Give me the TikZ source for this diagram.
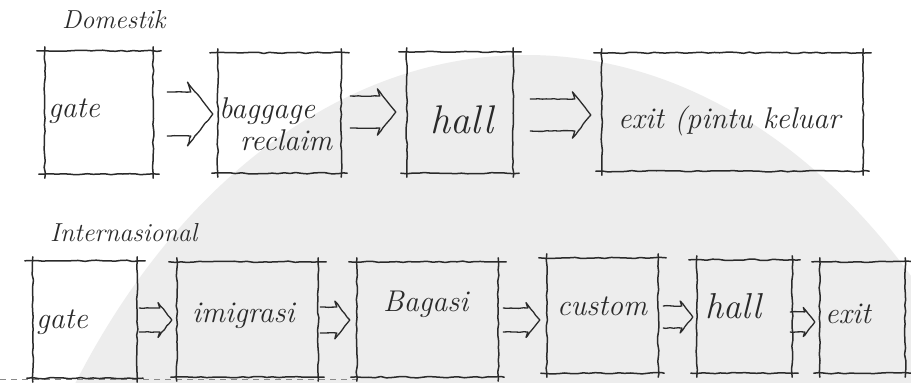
\documentclass[tikz,border=0pt]{standalone}
\usetikzlibrary{calc,decorations.pathmorphing}

\definecolor{ink}{HTML}{2A2A2A}
\definecolor{wash}{HTML}{EDEDED}

\tikzset{
  x=1pt, y=-1pt,
  pen/.style={draw=ink, line width=1.5pt, line cap=round, line join=round,
    decorate, decoration={random steps, segment length=6pt, amplitude=0.7pt}},
  penarrow/.style={draw=ink, line width=1.3pt, line cap=round, line join=round,
    decorate, decoration={random steps, segment length=4pt, amplitude=0.4pt}},
  box/.style={draw=none, inner sep=0pt},
  hand/.style={text=ink, inner sep=0pt, font=\itshape\fontsize{30}{34}\selectfont},
  title/.style={hand, font=\itshape\fontsize{26}{30}\selectfont},
}

% a sketched frame round a box node, with overshooting edges
\newcommand\penbox[1]{%
  \draw[pen] ([xshift=-8pt]#1.north west) -- ([xshift=8pt]#1.north east);
  \draw[pen] ([xshift=-6pt]#1.south west) -- ([xshift=6pt]#1.south east);
  \draw[pen] ([yshift=4pt]#1.north west) -- ([yshift=-4pt]#1.south west);
  \draw[pen] ([yshift=4pt]#1.north east) -- ([yshift=-4pt]#1.south east);
}

% hollow double-line arrow: from, to, gap after from, gap before to, half width, centre y
\newcommand\penarrow[6]{%
  \draw[penarrow] let \p1=(#1.east), \p2=(#2.west) in
    (\x1+#3pt, -#6pt+#5pt) -- (\x2-#4pt-#5pt, -#6pt+#5pt)
    -- (\x2-#4pt-1.15*#5pt, -#6pt+1.45*#5pt) -- (\x2-#4pt, -#6pt)
    -- (\x2-#4pt-1.15*#5pt, -#6pt-1.45*#5pt) -- (\x2-#4pt-#5pt, -#6pt-#5pt)
    -- (\x1+#3pt, -#6pt-#5pt);
}

\begin{document}
\begin{tikzpicture}
\pgfmathsetseed{11}
\fill[white] (0,0) rectangle (911,383);
\useasboundingbox (0,0) rectangle (911,383);

% pale background wash
\begin{scope}
  \clip (0,0) rectangle (911,383);
  \fill[wash] (526,855) ellipse [x radius=558pt, y radius=800pt];
\end{scope}

% faint dashed base line
\draw[ink!55, line width=0.7pt, dash pattern=on 6pt off 5pt] (0,379) -- (360,379);

% ---------- Domestik ----------
\node[title, anchor=base west] (tdom) at (62,28) {Domestik};

\node[box, minimum width=108pt, minimum height=123pt] (dgate) at (99,112.5) {};
\node[box, minimum width=123pt, minimum height=120pt] (dbag)  at (279.5,113) {};
\node[box, minimum width=106pt, minimum height=121pt] (dhall) at (460,112.5) {};
\node[box, minimum width=261pt, minimum height=118pt] (dexit) at (732.5,112) {};

\foreach \b in {dgate,dbag,dhall,dexit} {\penbox{\b}}

\node[hand, anchor=base west] (ldgate) at (48,117) {gate};
\node[hand, anchor=base west] (ldbag1) at (219,118) {baggage};
\node[hand, anchor=base west] (ldbag2) at (240,150) {reclaim};
\node[hand, anchor=base west, font=\itshape\fontsize{40}{44}\selectfont] (ldhall) at (430,133) {hall};
\node[hand, anchor=base west] (ldexit) at (618,128) {exit (pintu keluar};

\penarrow{dgate}{dbag}{14}{5}{22}{114}
\penarrow{dbag}{dhall}{9}{11}{16}{112}
\penarrow{dhall}{dexit}{17}{11}{16}{115}

% ---------- Internasional ----------
\node[title, anchor=base west] (tint) at (50,241) {Internasional};

\node[box, minimum width=104pt, minimum height=117pt] (igate) at (85,319.5) {};
\node[box, minimum width=141pt, minimum height=115pt] (iimi)  at (247.5,319.5) {};
\node[box, minimum width=141pt, minimum height=115pt] (ibag)  at (427.5,319.5) {};
\node[box, minimum width=111pt, minimum height=115pt] (icus)  at (602.5,315.5) {};
\node[box, minimum width=95pt,  minimum height=113pt] (ihall) at (744.5,316.5) {};
\node[box, minimum width=85pt,  minimum height=111pt] (iexit) at (862.5,317.5) {};

\foreach \b in {igate,iimi,ibag,icus,ihall,iexit} {\penbox{\b}}

\node[hand, anchor=base west] (ligate) at (36,328) {gate};
\node[hand, anchor=base west] (liimi)  at (192,322) {imigrasi};
\node[hand, anchor=base west] (libag)  at (383,311) {Bagasi};
\node[hand, anchor=base west] (licus)  at (557,315) {custom};
\node[hand, anchor=base west, font=\itshape\fontsize{36}{40}\selectfont] (lihall) at (705,318) {hall};
\node[hand, anchor=base west] (liexit) at (825,323) {exit};

\penarrow{igate}{iimi}{2}{5}{12}{320}
\penarrow{iimi}{ibag}{2}{7}{13}{320}
\penarrow{ibag}{icus}{5}{7}{12}{320}
\penarrow{icus}{ihall}{5}{4}{11}{317}
\penarrow{ihall}{iexit}{-2}{5}{10}{322}
\end{tikzpicture}
\end{document}
